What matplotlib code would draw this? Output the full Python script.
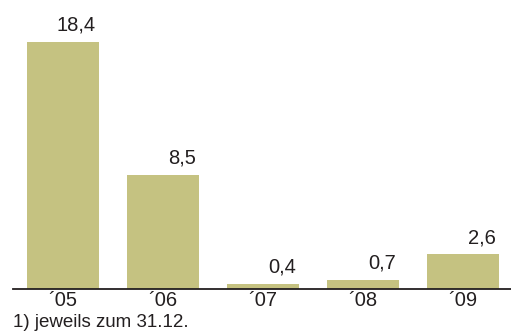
import matplotlib.pyplot as plt

plt.rcParams['font.family'] = ['Liberation Sans', 'DejaVu Sans']

# data
years = ["´05", "´06", "´07", "´08", "´09"]
values = [18.4, 8.5, 0.4, 0.7, 2.6]
labels = ["18,4", "8,5", "0,4", "0,7", "2,6"]

BAR = "#c5c281"
TXT = "#231f20"

fig = plt.figure(figsize=(5.11, 3.33), dpi=100)
# axes from x=13 to 513 px, baseline at y=289 px
ax = fig.add_axes([13 / 511, (333 - 289) / 333, 500 / 511, 289 / 333])

x = range(len(values))
ax.bar(x, values, width=0.72, color=BAR, zorder=2)
for i, (v, lab) in enumerate(zip(values, labels)):
    ax.annotate(lab, (i + 0.33, v), xytext=(0, 5), textcoords="offset points",
                ha="right", va="bottom", fontsize=14.5, color=TXT)

ax.set_xlim(-0.5, 4.5)
ax.set_ylim(0, 289 / 13.43)
ax.set_xticks(list(x))
ax.set_xticklabels(years, fontsize=14.5, color=TXT)
ax.tick_params(axis="x", length=0, pad=1.5)
ax.set_yticks([])
for s in ["top", "left", "right"]:
    ax.spines[s].set_visible(False)
ax.spines["bottom"].set_linewidth(1.3)
ax.spines["bottom"].set_color(TXT)
ax.spines["bottom"].set_zorder(3)

fig.text(13 / 511, 1 - 327 / 333, "1) jeweils zum 31.12.", fontsize=13.5,
         color=TXT, ha="left", va="baseline")

fig.savefig("out.png", dpi=100)
